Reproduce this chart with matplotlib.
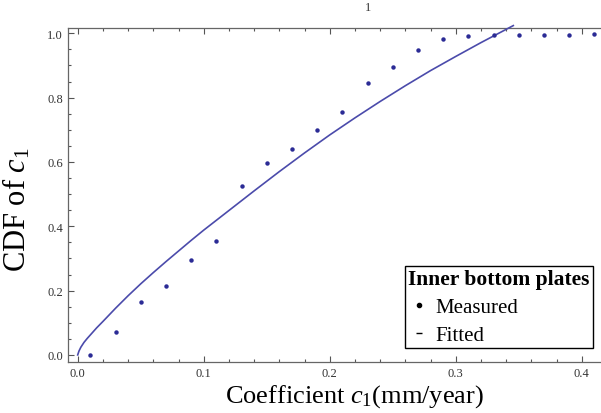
import matplotlib
matplotlib.use("Agg")
import matplotlib.pyplot as plt
from matplotlib.lines import Line2D
from matplotlib.ticker import MultipleLocator

# Measured CDF points
meas_x = [0.01, 0.03, 0.05, 0.07, 0.09, 0.11, 0.13, 0.15, 0.17, 0.19, 0.21,
          0.23, 0.25, 0.27, 0.29, 0.31, 0.33, 0.35, 0.37, 0.39, 0.41]
meas_y = [0.0, 0.07, 0.165, 0.215, 0.294, 0.355, 0.524, 0.598, 0.641, 0.700, 0.754,
          0.844, 0.896, 0.948, 0.981, 0.992, 0.996, 0.996, 0.996, 0.996, 0.999]

# Fitted curve
fit_x = [0.0, 0.001, 0.0025, 0.005, 0.0075, 0.01, 0.015, 0.02, 0.03, 0.04, 0.05, 0.06,
         0.07, 0.08, 0.09, 0.10, 0.12, 0.14, 0.16, 0.18, 0.20, 0.22, 0.24, 0.26,
         0.28, 0.30, 0.32, 0.3457]
fit_y = [0.0, 0.012, 0.024, 0.039, 0.051, 0.062, 0.084, 0.104, 0.145, 0.184, 0.221, 0.256,
         0.290, 0.323, 0.356, 0.388, 0.449, 0.510, 0.570, 0.628, 0.684, 0.737, 0.788, 0.837,
         0.884, 0.928, 0.971, 1.024]

x_ticks = [0.0, 0.1, 0.2, 0.3, 0.4]
y_ticks = [0.0, 0.2, 0.4, 0.6, 0.8, 1.0]

plt.rcParams['font.family'] = ['Liberation Serif', 'DejaVu Serif']
plt.rcParams['mathtext.fontset'] = 'custom'
plt.rcParams['mathtext.it'] = 'Liberation Serif:italic'
plt.rcParams['mathtext.rm'] = 'Liberation Serif'

fig = plt.figure(figsize=(6.01, 4.14), dpi=100)
ax = fig.add_axes([68/601, 51/414, 532/601, 334/414])

ax.plot(fit_x, fit_y, color='#4b4bab', lw=1.2, clip_on=False, zorder=3)
ax.plot(meas_x, meas_y, 'o', color='#2b2b95', ms=3.2, mec='none', zorder=4)

ax.set_xlim(-0.0077, 0.4145)
ax.set_ylim(-0.022, 1.0165)
ax.set_xticks(x_ticks)
ax.set_xticklabels([f"{v:.1f}" for v in x_ticks])
ax.set_yticks(y_ticks)
ax.set_yticklabels([f"{v:.1f}" for v in y_ticks])
ax.xaxis.set_minor_locator(MultipleLocator(0.02))
ax.yaxis.set_minor_locator(MultipleLocator(0.05))
ax.tick_params(which='both', direction='in', top=True, right=False,
               labelsize=9, colors='#555555', labelcolor='#333333', width=0.8)
ax.tick_params(which='major', length=4)
ax.tick_params(which='minor', length=2.5)
ax.spines['right'].set_visible(False)
for s in ['left', 'bottom', 'top']:
    ax.spines[s].set_color('#666666')
    ax.spines[s].set_linewidth(0.9)

ax.set_xlabel(r'Coefficient $c_{\mathregular{1}}$(mm/year)', fontsize=19)
ax.xaxis.set_label_coords(0.539, -0.06)
ax.set_ylabel(r'CDF of $c_{\mathregular{1}}$', fontsize=22)
ax.yaxis.set_label_coords(-0.066, 0.458)

handles = [Line2D([], [], marker='o', ls='none', color='black', ms=3),
           Line2D([], [], marker='_', ls='none', color='black', ms=5)]
leg = ax.legend(handles, ['Measured', 'Fitted'], title='Inner bottom plates',
                loc='upper left', bbox_to_anchor=(405/601, 1 - 267/414),
                bbox_transform=fig.transFigure, fontsize=15, frameon=True,
                fancybox=False, framealpha=1, edgecolor='black',
                handlelength=1.0, handletextpad=0.3, borderpad=0.15,
                labelspacing=0.4, borderaxespad=0)
leg.get_title().set_fontsize(15.5)
leg.get_title().set_fontweight('bold')
leg._legend_box.align = 'left'
leg.get_frame().set_linewidth(1.0)

fig.text(368/601, 1 - 8/414, '1', fontsize=9, ha='center', va='center', color='#333333')

fig.savefig('out.png', dpi=100)
